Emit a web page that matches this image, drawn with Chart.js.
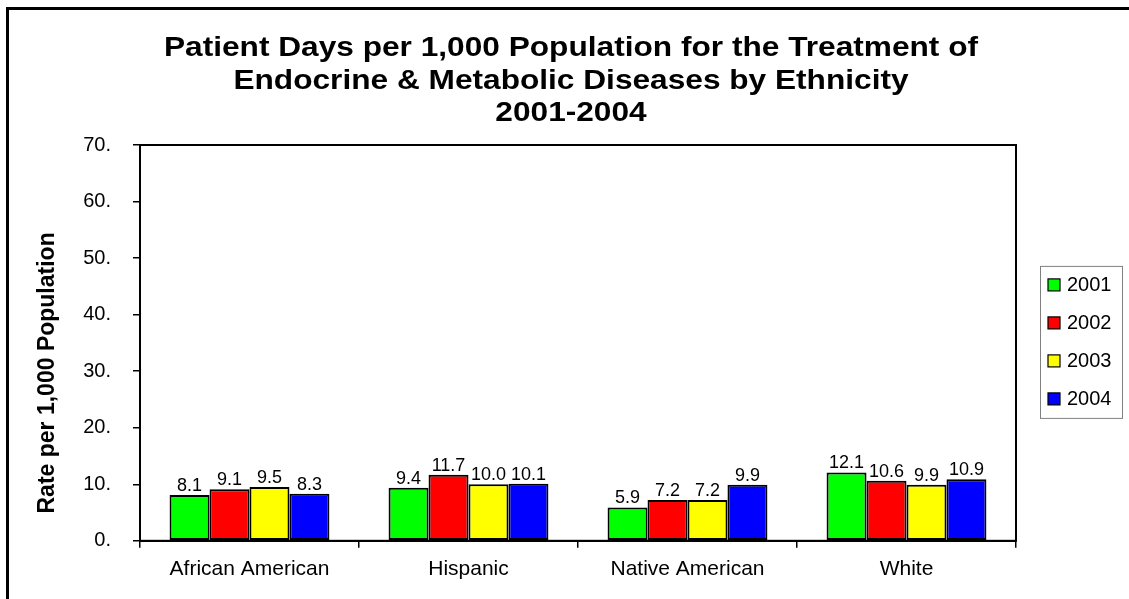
<!DOCTYPE html>
<html>
<head>
<meta charset="utf-8">
<script src="https://cdn.jsdelivr.net/npm/chart.js@4.4.1/dist/chart.umd.min.js"></script>
<style>
  html, body { margin: 0; padding: 0; background: #fff; overflow: hidden; }
  #wrap { position: relative; width: 1129px; height: 599px; }
  #frame { position: absolute; left: 6px; top: 7px; width: 1200px; height: 700px;
           border-left: 3px solid #000; border-top: 3px solid #000; pointer-events: none; }
  canvas { position: absolute; left: 0; top: 0; }
</style>
</head>
<body>
<div id="wrap">
  <canvas id="c" width="1129" height="599"></canvas>
  <div id="frame"></div>
</div>
<script>
const categories = ["African American", "Hispanic", "Native American", "White"];
const seriesNames = ["2001", "2002", "2003", "2004"];
const values2001 = [8.1, 9.4, 5.9, 12.1];
const values2002 = [9.1, 11.7, 7.2, 10.6];
const values2003 = [9.5, 10.0, 7.2, 9.9];
const values2004 = [8.3, 10.1, 9.9, 10.9];
const seriesColors = ["#00FF00", "#FF0000", "#FFFF00", "#0000FF"];
const yMin = 0, yMax = 70, yStep = 10;
const titleLines = ["Patient Days per 1,000 Population for the Treatment of",
                    "Endocrine & Metabolic Diseases by Ethnicity",
                    "2001-2004"];
const yAxisTitle = "Rate per 1,000 Population";

const FONT = "'Liberation Sans', Arial, Helvetica, sans-serif";
Chart.defaults.font.family = FONT;
Chart.defaults.color = "#000";

const allValues = [values2001, values2002, values2003, values2004];

const decorations = {
  id: 'decorations',
  afterDraw(chart) {
    const ctx = chart.ctx;
    const a = chart.chartArea;
    ctx.save();
    // plot border
    ctx.strokeStyle = "#000";
    ctx.lineWidth = 2;
    ctx.strokeRect(a.left, a.top, a.right - a.left, a.bottom - a.top);
    // value labels
    ctx.fillStyle = "#000";
    ctx.font = "18px " + FONT;
    ctx.textAlign = "center";
    ctx.textBaseline = "alphabetic";
    chart.data.datasets.forEach((ds, i) => {
      const meta = chart.getDatasetMeta(i);
      meta.data.forEach((bar, j) => {
        ctx.fillText(ds.data[j].toFixed(1), bar.x, bar.y - 4);
      });
    });
    // y axis title
    ctx.font = "bold 23px " + FONT;
    ctx.save();
    ctx.translate(a.left - 92, (a.top + a.bottom) / 2 + 30);
    ctx.rotate(-Math.PI / 2);
    ctx.textAlign = "center";
    ctx.textBaseline = "middle";
    ctx.fillText(yAxisTitle, 0, 0);
    ctx.restore();
    // chart title (wide glyphs like the reference)
    ctx.font = "bold 28px " + FONT;
    ctx.textAlign = "center";
    ctx.textBaseline = "alphabetic";
    const tx = (chart.width + 11) / 2 + 1;
    titleLines.forEach((line, k) => {
      ctx.save();
      ctx.translate(tx, a.top - 89 + k * 32.7);
      ctx.scale(1.13, 1);
      ctx.fillText(line, 0, 0);
      ctx.restore();
    });
    // legend
    const bx = a.right + 24, by = (a.top + a.bottom) / 2 - 77, bw = 82, bh = 152;
    ctx.fillStyle = "#fff";
    ctx.fillRect(bx, by, bw, bh);
    ctx.strokeStyle = "#808080";
    ctx.lineWidth = 1;
    ctx.strokeRect(bx + 0.5, by + 0.5, bw, bh);
    ctx.font = "20px " + FONT;
    ctx.textAlign = "left";
    ctx.textBaseline = "middle";
    chart.data.datasets.forEach((ds, i) => {
      const cy = by + 19 + i * 38;
      ctx.fillStyle = ds.backgroundColor;
      ctx.fillRect(bx + 8, cy - 6, 12, 12);
      ctx.strokeStyle = "#000";
      ctx.lineWidth = 1.2;
      ctx.strokeRect(bx + 8, cy - 6, 12, 12);
      ctx.fillStyle = "#000";
      ctx.fillText(ds.label, bx + 27, cy + 1);
    });
    ctx.restore();
  }
};

new Chart(document.getElementById('c'), {
  type: 'bar',
  data: {
    labels: categories,
    datasets: seriesNames.map((name, i) => ({
      label: name,
      data: allValues[i],
      backgroundColor: seriesColors[i],
      borderColor: "#000",
      borderWidth: 2,
      borderSkipped: false,
      categoryPercentage: 0.73,
      barPercentage: 1.0,
      yAxisID: 'y'
    }))
  },
  options: {
    responsive: false,
    animation: false,
    devicePixelRatio: 1,
    layout: { padding: { left: 11, right: 0, top: 145, bottom: 8 } },
    plugins: {
      legend: { display: false },
      tooltip: { enabled: false },
      title: { display: false }
    },
    scales: {
      x: {
        grid: { display: true, drawOnChartArea: false, offset: true, color: "#000", lineWidth: 1.5, tickLength: 7 },
        border: { display: true, color: "#000", width: 2 },
        ticks: { font: { size: 21, family: FONT }, color: "#000", padding: 9, maxRotation: 0 }
      },
      y: {
        position: 'left',
        min: yMin,
        max: yMax,
        afterFit(scale) { scale.width = 129; },
        grid: { display: true, drawOnChartArea: false, color: "#000", lineWidth: 1.5, tickLength: 7 },
        border: { display: true, color: "#000", width: 2 },
        ticks: { stepSize: yStep, font: { size: 20, family: FONT }, color: "#000", padding: 22,
                 callback: (v) => v + "." }
      },
      legendSpace: {
        type: 'linear',
        position: 'right',
        display: true,
        min: yMin,
        max: yMax,
        afterFit(scale) { scale.width = 113; },
        grid: { display: false, drawTicks: false },
        border: { display: false },
        ticks: { display: false }
      }
    }
  },
  plugins: [decorations]
});
</script>
</body>
</html>
